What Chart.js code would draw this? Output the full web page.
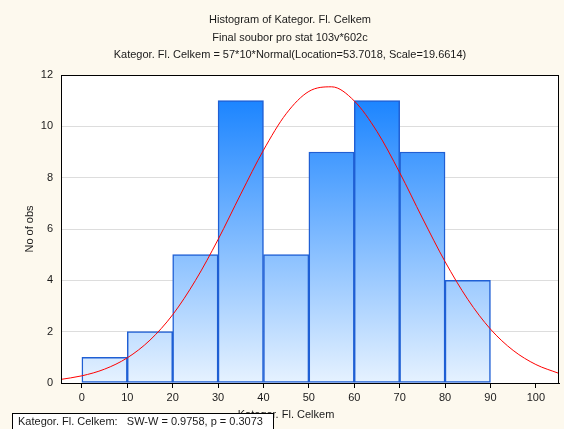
<!DOCTYPE html>
<html>
<head>
<meta charset="utf-8">
<script src="https://cdn.jsdelivr.net/npm/chart.js@4"></script>
<style>
  html, body { margin: 0; padding: 0; background: #fdf9ee; }
</style>
</head>
<body>
<canvas id="histo" width="564" height="429"></canvas>
<script>
// histogram bins (centres) and counts
const binCenters = [5, 15, 25, 35, 45, 55, 65, 75, 85, 95];
const binCounts = [1, 2, 5, 11, 5, 9, 11, 9, 4, 0];

// fitted normal curve
const curveX = [-5, 0, 5, 10, 15, 20, 25, 30, 35, 40, 45, 50, 55, 60, 65, 70, 75, 80, 85, 90, 95, 100, 105];
const curveY = [0.13, 0.28, 0.54, 0.98, 1.67, 2.66, 3.99, 5.59, 7.36, 9.07, 10.49, 11.36, 11.54, 10.99, 9.8, 8.2, 6.43, 4.73, 3.26, 2.1, 1.27, 0.72, 0.38];

const titleLines = [
  'Histogram of Kategor. Fl. Celkem',
  'Final soubor pro stat 103v*602c',
  'Kategor. Fl. Celkem = 57*10*Normal(Location=53.7018, Scale=19.6614)'
];
const xTitle = 'Kategor. Fl. Celkem';
const yTitle = 'No of obs';
const statText = 'Kategor. Fl. Celkem:   SW-W = 0.9758, p = 0.3073';

const FONT = '"Liberation Sans", Arial, sans-serif';

function barGradient(context) {
  const area = context.chart.chartArea;
  if (!area) return '#5aa8ff';
  const g = context.chart.ctx.createLinearGradient(0, area.top, 0, area.bottom);
  g.addColorStop(0, '#0a7bff');
  g.addColorStop(1, '#e6f2ff');
  return g;
}

const framePlugin = {
  id: 'framePlugin',
  beforeDraw(chart) {
    const { ctx, chartArea: a } = chart;
    ctx.save();
    ctx.fillStyle = '#fdf9ee';
    ctx.fillRect(0, 0, chart.width, chart.height);
    ctx.fillStyle = '#ffffff';
    ctx.fillRect(a.left, a.top, a.right - a.left, a.bottom - a.top);
    ctx.restore();
  },
  afterDraw(chart) {
    const { ctx, chartArea: a } = chart;
    ctx.save();
    ctx.strokeStyle = '#000';
    ctx.lineWidth = 1;
    ctx.strokeRect(a.left + 0.5, a.top + 0.5, a.right - a.left - 1, a.bottom - a.top);

    ctx.fillStyle = '#1a1a1a';
    ctx.font = '11px ' + FONT;
    ctx.textAlign = 'center';
    ctx.textBaseline = 'middle';
    titleLines.forEach((t, i) => ctx.fillText(t, 290, 20 + i * 17.5));

    ctx.fillText(xTitle, 286, 415);

    // stats box
    ctx.fillStyle = '#fff';
    ctx.fillRect(12, 413, 261, 20);
    ctx.strokeStyle = '#000';
    ctx.strokeRect(12.5, 413.5, 261, 20);
    ctx.fillStyle = '#1a1a1a';
    ctx.textAlign = 'left';
    ctx.fillText(statText, 18, 421.5);
    ctx.restore();
  }
};

new Chart(document.getElementById('histo'), {
  data: {
    datasets: [
      {
        type: 'line',
        data: curveX.map((x, i) => ({ x: x, y: curveY[i] })),
        borderColor: '#ff0000',
        borderWidth: 1,
        pointRadius: 0,
        cubicInterpolationMode: 'monotone',
        order: 0
      },
      {
        type: 'bar',
        data: binCenters.map((x, i) => ({ x: x, y: binCounts[i] })),
        backgroundColor: barGradient,
        borderColor: '#1f5fd4',
        borderWidth: 1.5,
        borderSkipped: false,
        barPercentage: 1,
        categoryPercentage: 1,
        order: 1
      }
    ]
  },
  options: {
    responsive: false,
    animation: false,
    layout: { padding: { left: 0, top: 75, right: 5, bottom: 0 } },
    plugins: { legend: { display: false }, tooltip: { enabled: false } },
    scales: {
      x: {
        type: 'linear',
        offset: false,
        min: -4.6,
        max: 105.1,
        afterFit(scale) { scale.height = 46; },
        afterBuildTicks(scale) {
          scale.ticks = [0, 10, 20, 30, 40, 50, 60, 70, 80, 90, 100].map(v => ({ value: v }));
        },
        grid: { offset: false, drawOnChartArea: false, drawTicks: true, tickLength: 5, color: '#000' },
        border: { color: '#000' },
        ticks: { font: { family: FONT, size: 11 }, color: '#1a1a1a', padding: 3, maxRotation: 0 }
      },
      y: {
        min: 0,
        max: 12,
        afterFit(scale) { scale.width = 61; },
        grid: { color: '#dddddd', drawTicks: false },
        border: { color: '#555' },
        ticks: { stepSize: 2, font: { family: FONT, size: 11 }, color: '#1a1a1a', padding: 8 },
        title: { display: true, text: yTitle, font: { family: FONT, size: 11 }, color: '#1a1a1a', padding: { top: 23, bottom: 0 } }
      }
    }
  },
  plugins: [framePlugin]
});
</script>
</body>
</html>
